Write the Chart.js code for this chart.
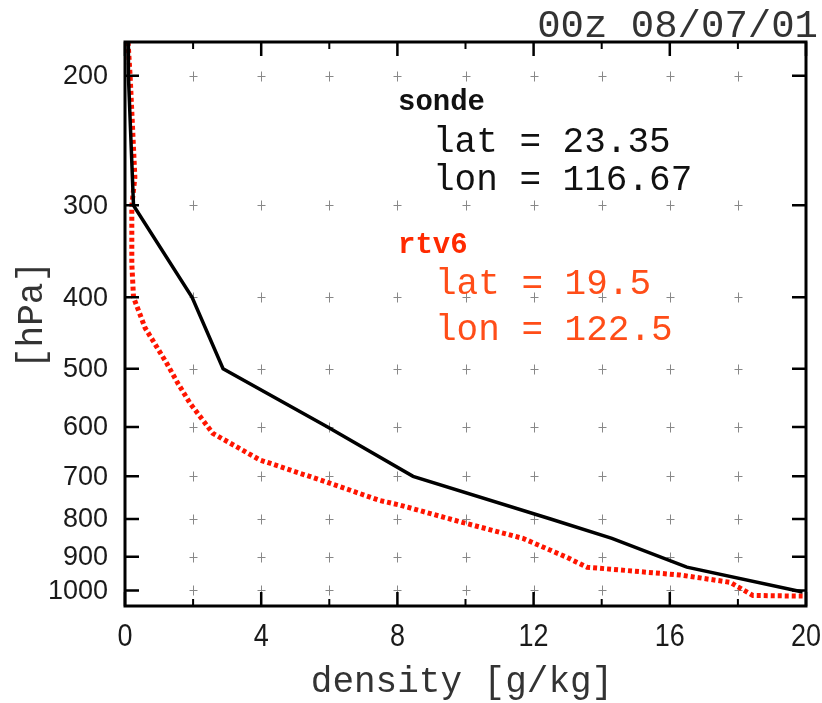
<!DOCTYPE html>
<html>
<head>
<meta charset="utf-8">
<script src="https://cdn.jsdelivr.net/npm/chart.js@4.4.0/dist/chart.umd.min.js"></script>
<style>
  body { margin: 0; background: #fff; }
  #wrap { width: 822px; height: 703px; position: relative; }
</style>
</head>
<body>
<div id="wrap"><canvas id="profileChart"></canvas></div>
<script>
// sonde profile (black solid)
const sondeDensity  = [0.09, 0.1, 0.25, 1.97, 2.88, 5.95, 8.46, 12.5, 14.3, 16.5, 19.9];
const sondePressure = [180, 200, 300, 400, 500, 600, 700, 800, 850, 930, 1005];

// rtv6 retrieval (red dotted)
const rtvDensity  = [0.09, 0.15, 0.29, 0.2, 0.2, 0.25, 0.59, 1.23, 1.56, 1.91, 2.58, 3.96, 5.93, 7.49, 8.08, 9.93, 11.69, 12.98, 13.57, 16.3, 17.77, 18.44, 19.9];
const rtvPressure = [180, 200, 275, 300, 360, 400, 440, 492, 524, 557, 612, 665, 713, 755, 766, 809, 850, 902, 930, 953, 975, 1016, 1018];

const pressureTicks = [200, 300, 400, 500, 600, 700, 800, 900, 1000];
const densityTicks = [0, 4, 8, 12, 16, 20];
const densityMinor = [2, 6, 10, 14, 18];

const mono = '"Liberation Mono", "DejaVu Sans Mono", monospace';
const sans = '"Liberation Sans", Arial, sans-serif';

function toPoints(xs, ys) {
    return xs.map((x, i) => ({ x: x, y: ys[i] }));
}

const decorations = {
    id: "decorations",
    beforeDatasetsDraw(chart) {
        const ctx = chart.ctx;
        const xs = chart.scales.x, ys = chart.scales.y;
        // "+" grid marks
        ctx.save();
        ctx.strokeStyle = "#888";
        ctx.lineWidth = 1;
        for (let d = 2; d <= 18; d += 2) {
            const px = Math.round(xs.getPixelForValue(d)) + 0.5;
            pressureTicks.forEach(p => {
                const py = Math.round(ys.getPixelForValue(p)) + 0.5;
                ctx.beginPath();
                ctx.moveTo(px - 4, py); ctx.lineTo(px + 4, py);
                ctx.moveTo(px, py - 5); ctx.lineTo(px, py + 5);
                ctx.stroke();
            });
        }
        ctx.restore();
    },
    afterDatasetsDraw(chart) {
        const ctx = chart.ctx;
        const a = chart.chartArea;
        const xs = chart.scales.x, ys = chart.scales.y;
        ctx.save();
        ctx.strokeStyle = "#000";
        ctx.lineWidth = 3;
        ctx.strokeRect(a.left, a.top, a.right - a.left, a.bottom - a.top);

        // inward ticks
        ctx.lineWidth = 2.5;
        pressureTicks.forEach(p => {
            const py = ys.getPixelForValue(p);
            ctx.beginPath();
            ctx.moveTo(a.left, py); ctx.lineTo(a.left + 14, py);
            ctx.moveTo(a.right, py); ctx.lineTo(a.right - 14, py);
            ctx.stroke();
        });
        densityTicks.forEach(d => {
            const px = xs.getPixelForValue(d);
            ctx.beginPath();
            ctx.moveTo(px, a.top); ctx.lineTo(px, a.top + 14);
            ctx.moveTo(px, a.bottom); ctx.lineTo(px, a.bottom - 14);
            ctx.stroke();
        });
        ctx.lineWidth = 2;
        densityMinor.forEach(d => {
            const px = xs.getPixelForValue(d);
            ctx.beginPath();
            ctx.moveTo(px, a.top); ctx.lineTo(px, a.top + 7);
            ctx.moveTo(px, a.bottom); ctx.lineTo(px, a.bottom - 7);
            ctx.stroke();
        });

        // tick labels
        ctx.fillStyle = "#1a1a1a";
        ctx.font = "27px " + sans;
        ctx.textAlign = "right";
        ctx.textBaseline = "middle";
        pressureTicks.forEach(p => {
            ctx.fillText(String(p), 108, ys.getPixelForValue(p) + 1);
        });
        ctx.textAlign = "center";
        ctx.save();
        ctx.scale(1, 1.15);
        densityTicks.forEach(d => {
            ctx.fillText(String(d), xs.getPixelForValue(d), 637 / 1.15);
        });
        ctx.restore();

        // axis titles
        ctx.fillStyle = "#333";
        ctx.font = "36px " + mono;
        ctx.textBaseline = "alphabetic";
        ctx.fillText("density [g/kg]", 462, 692);
        ctx.save();
        ctx.translate(42, 315);
        ctx.rotate(-Math.PI / 2);
        ctx.fillText("[hPa]", 0, 0);
        ctx.restore();

        // date
        ctx.textAlign = "right";
        ctx.font = "39px " + mono;
        ctx.fillText("00z 08/07/01", 818, 37);

        // in-plot labels
        ctx.textAlign = "left";
        ctx.fillStyle = "#111";
        ctx.font = "bold 29px " + mono;
        ctx.fillText("sonde", 398, 110);
        ctx.font = "36px " + mono;
        ctx.fillText("lat = 23.35", 433, 152);
        ctx.fillText("lon = 116.67", 433, 190);
        ctx.fillStyle = "#ff2a00";
        ctx.font = "bold 29px " + mono;
        ctx.fillText("rtv6", 398, 253);
        ctx.fillStyle = "#ff4d18";
        ctx.font = "36px " + mono;
        ctx.fillText("lat = 19.5", 435, 294);
        ctx.fillText("lon = 122.5", 435, 340);
        ctx.restore();
    }
};

document.addEventListener("DOMContentLoaded", function () {
    const ctx = document.getElementById("profileChart").getContext("2d");
    window.profileChart = new Chart(ctx, {
        type: "scatter",
        data: {
            datasets: [
                {
                    label: "sonde",
                    data: toPoints(sondeDensity, sondePressure),
                    showLine: true,
                    borderColor: "#000",
                    borderWidth: 3.5,
                    pointRadius: 0,
                    tension: 0
                },
                {
                    label: "rtv6",
                    data: toPoints(rtvDensity, rtvPressure),
                    showLine: true,
                    borderColor: "#ff1500",
                    borderWidth: 5,
                    borderDash: [4, 3],
                    pointRadius: 0,
                    tension: 0
                }
            ]
        },
        options: {
            responsive: true,
            maintainAspectRatio: false,
            animation: false,
            layout: { padding: { left: 125, top: 42, right: 16, bottom: 97 } },
            scales: {
                x: { type: "linear", min: 0, max: 20, display: false },
                y: { type: "logarithmic", min: 180, max: 1050, reverse: true, display: false }
            },
            plugins: {
                legend: { display: false },
                tooltip: { enabled: false }
            }
        },
        plugins: [decorations]
    });
});
</script>
</body>
</html>
